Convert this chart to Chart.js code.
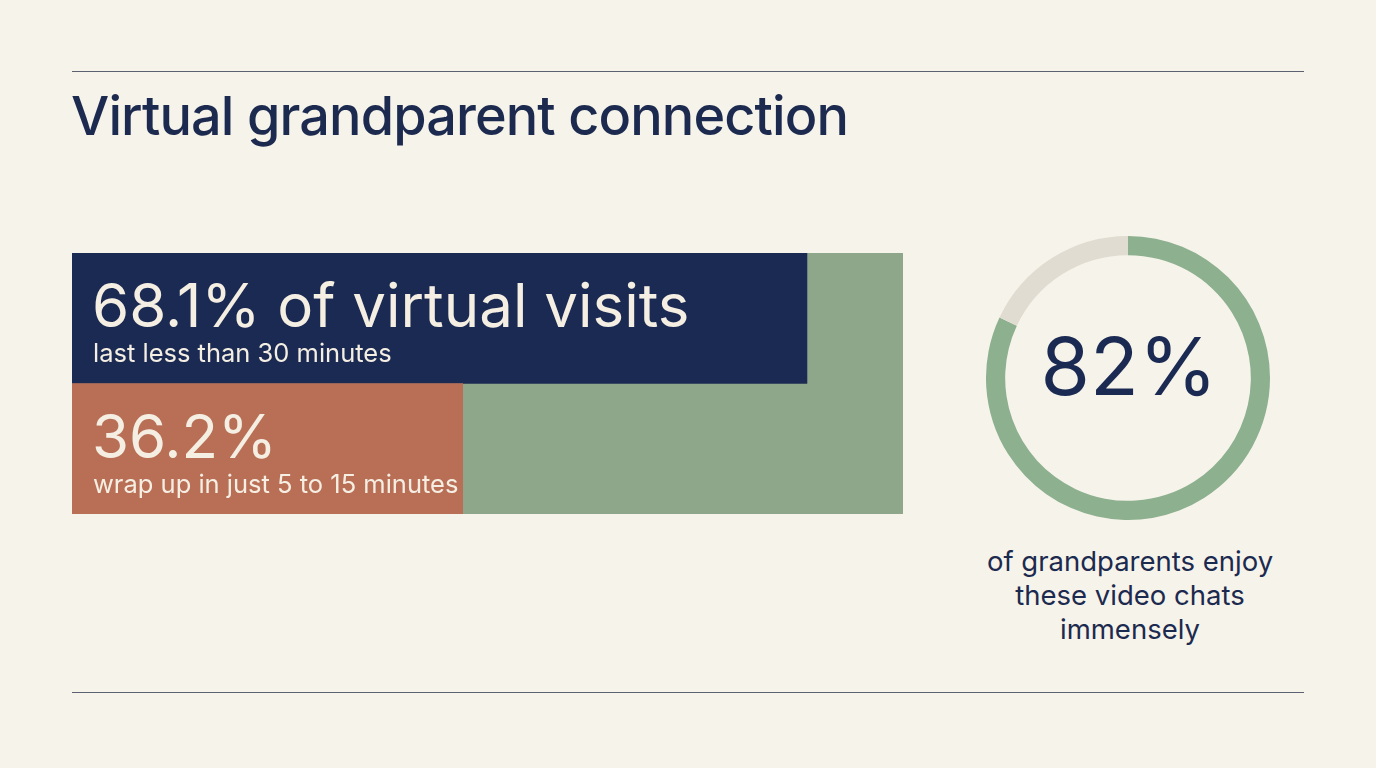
<!DOCTYPE html>
<html>
<head>
<meta charset="utf-8">
<script src="https://cdn.jsdelivr.net/npm/chart.js@4"></script>
<style>
  html, body { margin: 0; padding: 0; }
  body {
    width: 1376px; height: 768px; position: relative; overflow: hidden;
    background: #f6f3ea; font-family: Inter, "Noto Sans", sans-serif; color: #1c2a4f;
  }
  .rule { position: absolute; left: 72px; width: 1232px; height: 1px; background: #5b6170; }
  #title { position: absolute; left: 71px; top: 89px; margin: 0; font-size: 54px; line-height: 54px; font-weight: 500; letter-spacing: -0.9px; white-space: nowrap; }
  #barWrap { position: absolute; left: 72px; top: 253px; width: 831px; height: 261px; }
  #donutWrap { position: absolute; left: 986px; top: 236px; width: 284px; height: 284px; }
  #caption { position: absolute; left: 960px; top: 544px; width: 340px; text-align: center; font-size: 27.5px; line-height: 34px; }
</style>
</head>
<body>
<div class="rule" style="top:71px"></div>
<h1 id="title">Virtual grandparent connection</h1>
<div id="barWrap"><canvas id="bars"></canvas></div>
<div id="donutWrap"><canvas id="donut"></canvas></div>
<div id="caption">of grandparents enjoy<br>these video chats<br>immensely</div>
<div class="rule" style="top:692px"></div>

<script>
// ─── Data ──────────────────────────────────────────────────────────────────────
const barCategories = ["under30", "5to15"];
const barValues = [68.1, 36.2];
const barHeadlines = ["68.1% of virtual visits", "36.2%"];
const barSublines = ["last less than 30 minutes", "wrap up in just 5 to 15 minutes"];

const donutLabels = ["enjoy", "rest"];
const donutValues = [82, 18];
const donutCenter = "82%";

// ─── Colours ───────────────────────────────────────────────────────────────────
const NAVY = "#1b2a52";
const CORAL = "#b96f56";
const SAGE = "#8ea78b";
const RING = "#8db08f";
const RING_REST = "#e0dcd2";
const CREAM = "#f5efe3";

// green track behind the bars
const trackPlugin = {
  id: "track",
  beforeDatasetsDraw(chart) {
    const { ctx, chartArea: a } = chart;
    ctx.save();
    ctx.fillStyle = SAGE;
    ctx.fillRect(a.left, a.top, a.right - a.left, a.bottom - a.top);
    ctx.restore();
  }
};

// headline + subline inside each bar
const barTextPlugin = {
  id: "barText",
  afterDatasetsDraw(chart) {
    const { ctx, chartArea: a } = chart;
    const meta = chart.getDatasetMeta(0);
    ctx.save();
    ctx.fillStyle = CREAM;
    ctx.textBaseline = "alphabetic";
    meta.data.forEach((bar, i) => {
      const top = bar.y - bar.height / 2;
      ctx.font = "400 60px Inter";
      ctx.fillText(barHeadlines[i], a.left + 20, top + 74);
      ctx.font = "400 25.5px Inter";
      ctx.fillText(barSublines[i], a.left + 21, top + 109);
    });
    ctx.restore();
  }
};

new Chart(document.getElementById("bars"), {
  type: "bar",
  data: {
    labels: barCategories,
    datasets: [{
      data: barValues,
      backgroundColor: [NAVY, CORAL],
      borderWidth: 0,
      barPercentage: 1,
      categoryPercentage: 1
    }]
  },
  options: {
    indexAxis: "y",
    responsive: true,
    maintainAspectRatio: false,
    animation: false,
    layout: { padding: 0 },
    scales: {
      x: { display: false, min: 0, max: 77 },
      y: { display: false }
    },
    plugins: { legend: { display: false }, tooltip: { enabled: false } }
  },
  plugins: [trackPlugin, barTextPlugin]
});

// big number in the ring
const centerTextPlugin = {
  id: "centerText",
  afterDraw(chart) {
    const { ctx } = chart;
    const arc = chart.getDatasetMeta(0).data[0];
    ctx.save();
    ctx.fillStyle = NAVY;
    ctx.font = "400 80px Inter";
    ctx.textAlign = "center";
    ctx.textBaseline = "alphabetic";
    ctx.fillText(donutCenter, arc.x + 1, arc.y + 17);
    ctx.restore();
  }
};

new Chart(document.getElementById("donut"), {
  type: "doughnut",
  data: {
    labels: donutLabels,
    datasets: [{
      data: donutValues,
      backgroundColor: [RING, RING_REST],
      borderWidth: 0
    }]
  },
  options: {
    responsive: true,
    maintainAspectRatio: false,
    animation: false,
    cutout: "86.5%",
    layout: { padding: 0 },
    plugins: { legend: { display: false }, tooltip: { enabled: false } }
  },
  plugins: [centerTextPlugin]
});
</script>
</body>
</html>
